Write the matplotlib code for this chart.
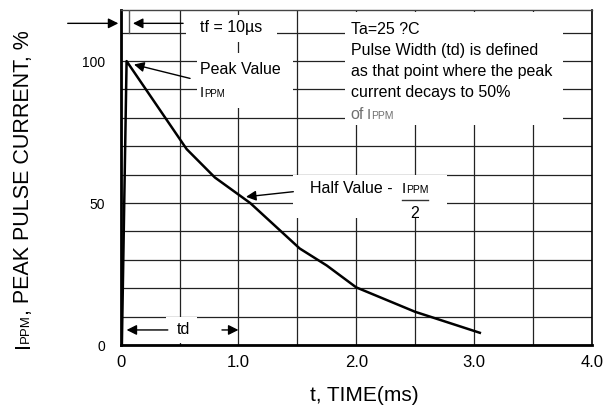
import numpy as np
import matplotlib
matplotlib.use('Agg')
import matplotlib.pyplot as plt
from matplotlib.patches import Rectangle
from matplotlib.lines import Line2D
from matplotlib.transforms import IdentityTransform

plt.rcParams['font.family'] = ['Liberation Sans', 'DejaVu Sans']

# pulse waveform
time_ms = [0.01, 0.05, 0.56, 0.8, 1.1, 1.52, 1.75, 2.0, 2.5, 3.05]
current_pct = [0, 100, 69, 59, 50, 34, 28, 20.3, 11.7, 4.3]

x_ticks = [0, 0.5, 1.0, 1.5, 2.0, 2.5, 3.0, 3.5, 4.0]
x_labels = ['0', '', '1.0', '', '2.0', '', '3.0', '', '4.0']
y_ticks = list(range(0, 111, 10))
y_labels = ['0', '', '', '', '', '50', '', '', '', '', '100', '']

cond_lines = ['Ta=25 ?C', 'Pulse Width (td) is defined',
              'as that point where the peak', 'current decays to 50%']

fig = plt.figure(figsize=(6.07, 4.11), dpi=100)
ax = fig.add_axes([120.7 / 607, 66 / 411, 471 / 607, 335 / 411])
ax.set_xlim(0, 4)
ax.set_ylim(0, 118)

ax.set_xticks(x_ticks)
ax.set_xticklabels(x_labels, fontsize=12)
ax.set_yticks(y_ticks)
ax.set_yticklabels(y_labels, fontsize=10)
ax.tick_params(axis='x', length=0, pad=7)
ax.tick_params(axis='y', length=0, pad=11)
ax.grid(True, color='#222222', lw=0.9)
ax.set_axisbelow(True)

ax.spines['left'].set_linewidth(2.0)
ax.spines['bottom'].set_linewidth(2.0)
ax.spines['top'].set_linewidth(1.0)
ax.spines['top'].set_color('#444444')
ax.spines['right'].set_linewidth(1.2)

ax.set_xlabel('t, TIME(ms)', fontsize=15)
ax.xaxis.set_label_coords(0.517, -0.122)

# white panels behind the notes (they break the grid in the original)
for x0, y0, w, h in [(0.555, 106.7, 0.775, 9.5), (0.648, 83.5, 0.816, 19.3),
                     (1.905, 77.5, 1.85, 39.8), (1.464, 44.7, 1.306, 15.2),
                     (0.385, 0.7, 0.265, 9.2)]:
    ax.add_patch(Rectangle((x0, y0), w, h, facecolor='white', edgecolor='none', zorder=1.5))

ax.plot(time_ms, current_pct, color='black', lw=1.8, zorder=3)

arrow = dict(arrowstyle='-|>,head_length=0.6,head_width=0.3', color='black',
             lw=1.0, shrinkA=0, shrinkB=0)

# tf marks
ax.annotate('', xy=(-0.02, 113.3), xytext=(-0.45, 113.3), arrowprops=arrow,
            annotation_clip=False)
ax.annotate('', xy=(0.104, 113.3), xytext=(0.53, 113.3), arrowprops=arrow)
ax.plot([0.07, 0.07], [110, 118], color='#555555', lw=1.0, zorder=3)
ax.text(0.673, 110.2, 'tf = 10µs', fontsize=11.5, va='baseline', zorder=5)

# peak / half value pointers
ax.annotate('', xy=(0.113, 98.8), xytext=(0.589, 93.9), arrowprops=arrow)
ax.annotate('', xy=(1.064, 52.2), xytext=(1.466, 54.0), arrowprops=arrow)

# td span
ax.annotate('', xy=(0.05, 5.3), xytext=(0.4, 5.3), arrowprops=arrow)
ax.annotate('', xy=(1.0, 5.3), xytext=(0.86, 5.3), arrowprops=arrow)
ax.text(0.53, 5.3, 'td', fontsize=11.5, ha='center', va='center', zorder=5)

renderer = fig.canvas.get_renderer()


def put_parts(x, y, parts, rotation=0, color='black', data=True):
    # lay text pieces one after another (big I, small PPM ...)
    if data:
        px, py = ax.transData.transform((x, y))
    else:
        px, py = x, y
    boxes = []
    for s, size, gap in parts:
        if rotation == 0:
            px += gap
        else:
            py += gap
        t = fig.text(px, py, s, transform=IdentityTransform(), fontsize=size,
                     color=color, rotation=rotation, rotation_mode='anchor',
                     ha='left', va='baseline', zorder=5)
        bb = t.get_window_extent(renderer)
        boxes.append(bb)
        if rotation == 0:
            px += bb.width
        else:
            py += bb.height
    return boxes


put_parts(0.673, 95.4, [('Peak Value', 11.5, 0)])
put_parts(0.673, 87.4, [('I', 10.5, 0), ('PPM', 7, 0)])

for i, line in enumerate(cond_lines):
    ax.text(1.953, 109.7 - 7.5 * i, line, fontsize=11.5, va='baseline', zorder=5)
put_parts(1.953, 109.7 - 7.5 * 4, [('of', 11.5, 0), ('I', 11, 3), ('PPM', 7.5, 0)],
          color='#707070')

hv = put_parts(1.608, 53.4, [('Half Value -', 11.5, 0), ('I', 11, 9), ('PPM', 7.5, 0)])
ul_y = hv[1].y0 - 3.5
fig.add_artist(Line2D([hv[1].x0, hv[2].x1], [ul_y, ul_y], color='#333333', lw=1.0,
                      transform=IdentityTransform()))
fig.text((hv[1].x0 + hv[2].x1) / 2, hv[1].y0 - 21.5, '2', fontsize=11.5,
         transform=IdentityTransform(), ha='center', va='baseline')

# y label with small-caps PPM
put_parts(29, 63, [('I', 15.5, 0), ('PPM', 9.5, -1), (', PEAK PULSE CURRENT, %', 15.5, -1)],
          rotation=90, data=False)

fig.savefig('out.png', dpi=100)
